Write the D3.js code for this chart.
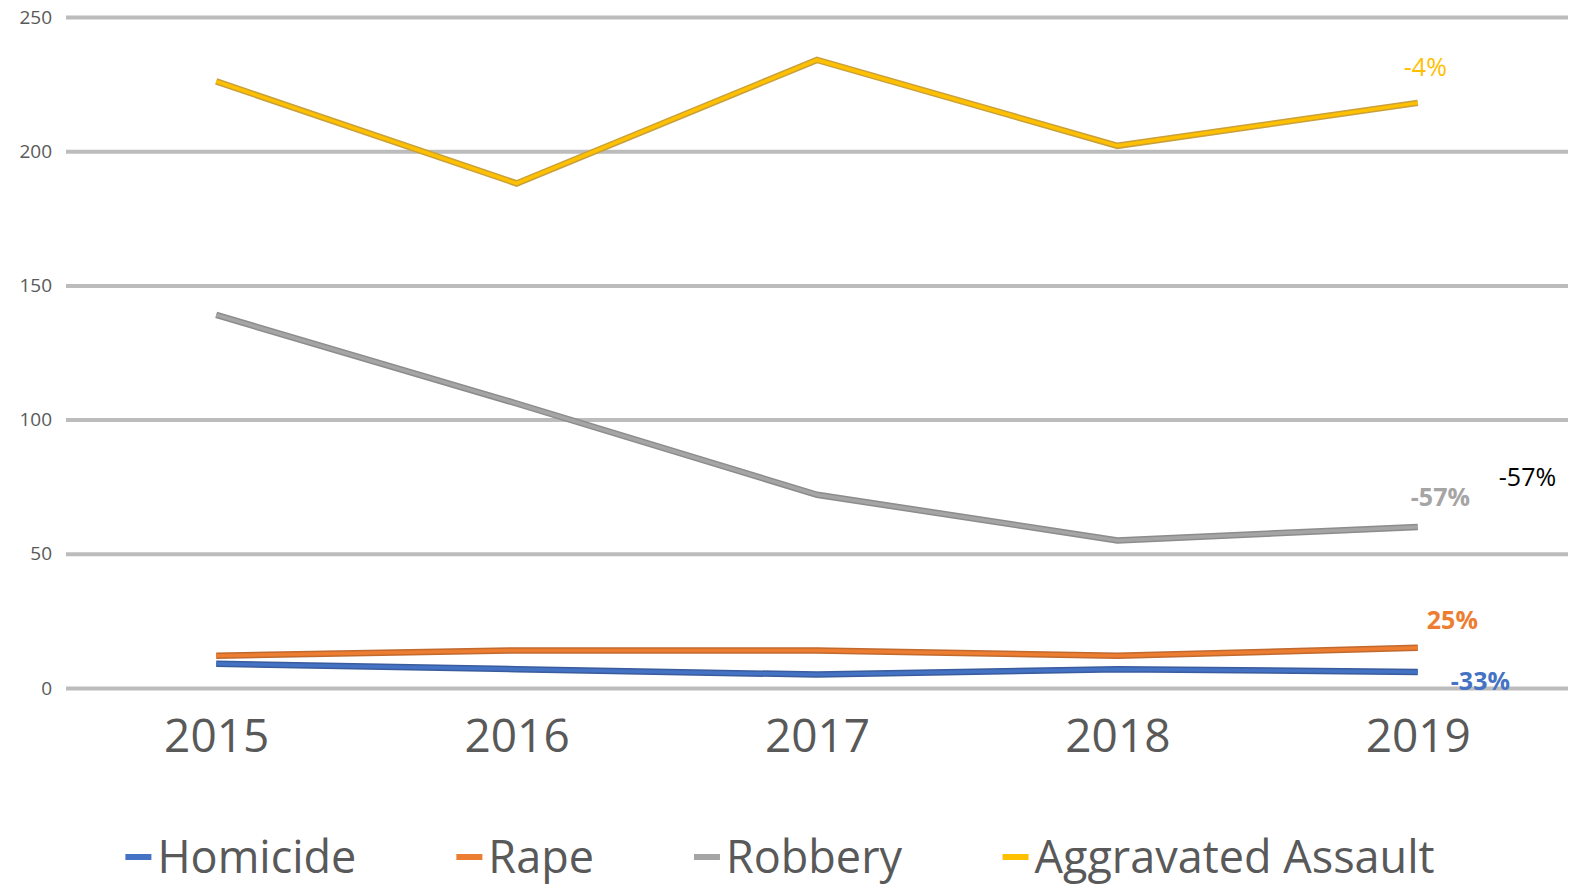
<!DOCTYPE html>
<html>
<head>
<meta charset="utf-8">
<script src="https://cdn.jsdelivr.net/npm/d3@7/dist/d3.min.js"></script>
<style>
    body { margin: 0; background: #fff; }
    .chart text { font-family: "Open Sans", "Liberation Sans", sans-serif; }
</style>
</head>
<body>
<div class="chart"></div>
<script>
var years = ["2015", "2016", "2017", "2018", "2019"];
var yTicks = [0, 50, 100, 150, 200, 250];
var seriesNames = ["Homicide", "Rape", "Robbery", "Aggravated Assault"];
var homicide = [9, 7, 5, 7, 6];
var rape = [12, 14, 14, 12, 15];
var robbery = [139, 106, 72, 55, 60];
var aggravatedAssault = [226, 188, 234, 202, 218];
var changeLabels = ["-33%", "25%", "-57%", "-4%"];

var option = {
    container: ".chart",
    width: 1575,
    height: 889,
    marginTop: 17,
    marginLeft: 66,
    marginRight: 7,
    plotBottom: 688
};

function lineChart(options) {
    var colors = ["#4472C4", "#ED7D31", "#A5A5A5", "#FFC000"],
        edges = ["#3a5c9c", "#c06a30", "#8c8c8c", "#c9a03a"],
        values = [homicide, rape, robbery, aggravatedAssault];

    var data = seriesNames.map(function (name, i) {
        return {
            name: name,
            color: colors[i],
            edge: edges[i],
            label: changeLabels[i],
            points: years.map(function (y, j) { return {year: y, value: values[i][j]}; })
        };
    });

    var xScale = d3.scalePoint()
            .domain(years)
            .range([options.marginLeft, options.width - options.marginRight])
            .padding(0.5);

    var yScale = d3.scaleLinear()
            .domain([0, 250])
            .range([options.plotBottom, options.marginTop]);

    var svg = d3.select(options.container)
            .append("svg")
            .attr("width", options.width)
            .attr("height", options.height);

// Draw grid lines
    var grid = svg.append("g")
            .attr("class", "grid")
            .attr("transform", "translate(" + options.marginLeft + ",0)")
            .call(d3.axisLeft(yScale)
                    .tickValues(yTicks)
                    .tickSize(-(options.width - options.marginLeft - options.marginRight))
                    .tickPadding(14)
                    .tickFormat(d3.format("d")));
    grid.select(".domain").remove();
    grid.selectAll("line")
            .style("stroke", "#bcbcbc")
            .style("stroke-width", 4);
    grid.selectAll("text")
            .style("font-size", "19px")
            .style("fill", "#595959");

// Draw x axis labels
    var x_g = svg.append("g")
            .attr("class", "x axis")
            .attr("transform", "translate(0," + options.plotBottom + ")")
            .call(d3.axisBottom(xScale).tickSize(0).tickPadding(31));
    x_g.select(".domain").remove();
    x_g.selectAll("text")
            .style("font-size", "46px")
            .style("fill", "#595959");

// Draw lines
    var line = d3.line()
            .x(function (d) { return xScale(d.year); })
            .y(function (d) { return yScale(d.value); });

    var series = svg.selectAll(".series")
            .data(data)
            .enter().append("g")
            .attr("class", "series");
    series.append("path")
            .attr("d", function (d) { return line(d.points); })
            .style("fill", "none")
            .style("stroke", function (d) { return d.edge; })
            .style("stroke-width", 6.5);
    series.append("path")
            .attr("d", function (d) { return line(d.points); })
            .style("fill", "none")
            .style("stroke", function (d) { return d.color; })
            .style("stroke-width", 3.5);

// Change labels next to 2019
    var last = years[years.length - 1];
    var labelOffsets = [
        {dx: 33, dy: 18, weight: "bold", color: "#4472C4"},
        {dx: 9, dy: -19, weight: "bold", color: "#ED7D31"},
        {dx: -7, dy: -21, weight: "bold", color: "#A5A5A5"},
        {dx: -14, dy: -27, weight: "normal", color: "#FFC000"}
    ];
    data.forEach(function (d, i) {
        var p = d.points[d.points.length - 1];
        svg.append("text")
                .attr("x", xScale(last) + labelOffsets[i].dx)
                .attr("y", yScale(p.value) + labelOffsets[i].dy)
                .style("font-size", "25px")
                .style("font-weight", labelOffsets[i].weight)
                .style("fill", labelOffsets[i].color)
                .text(d.label);
    });
    // the extra black robbery label
    svg.append("text")
            .attr("x", xScale(last) + 81)
            .attr("y", yScale(robbery[robbery.length - 1]) - 41)
            .style("font-size", "25px")
            .style("fill", "#000")
            .text(changeLabels[2]);

// Legend
    var legend = svg.append("g").attr("class", "legend");
    var items = legend.selectAll("g")
            .data(data)
            .enter().append("g");
    items.append("line")
            .attr("x1", 0).attr("x2", 26)
            .attr("y1", 0).attr("y2", 0)
            .style("stroke", function (d) { return d.color; })
            .style("stroke-width", 6);
    items.append("text")
            .attr("x", 32)
            .attr("dy", "0.35em")
            .style("font-size", "45px")
            .style("fill", "#595959")
            .text(function (d) { return d.name; });
    var offset = 0, gap = 100;
    items.each(function () {
        var w = this.getBBox().width;
        d3.select(this).attr("transform", "translate(" + offset + ",0)");
        offset += w + gap;
    });
    var total = offset - gap;
    legend.attr("transform", "translate(" + (780 - total / 2) + ",857)");
}
lineChart(option);
</script>
</body>
</html>
